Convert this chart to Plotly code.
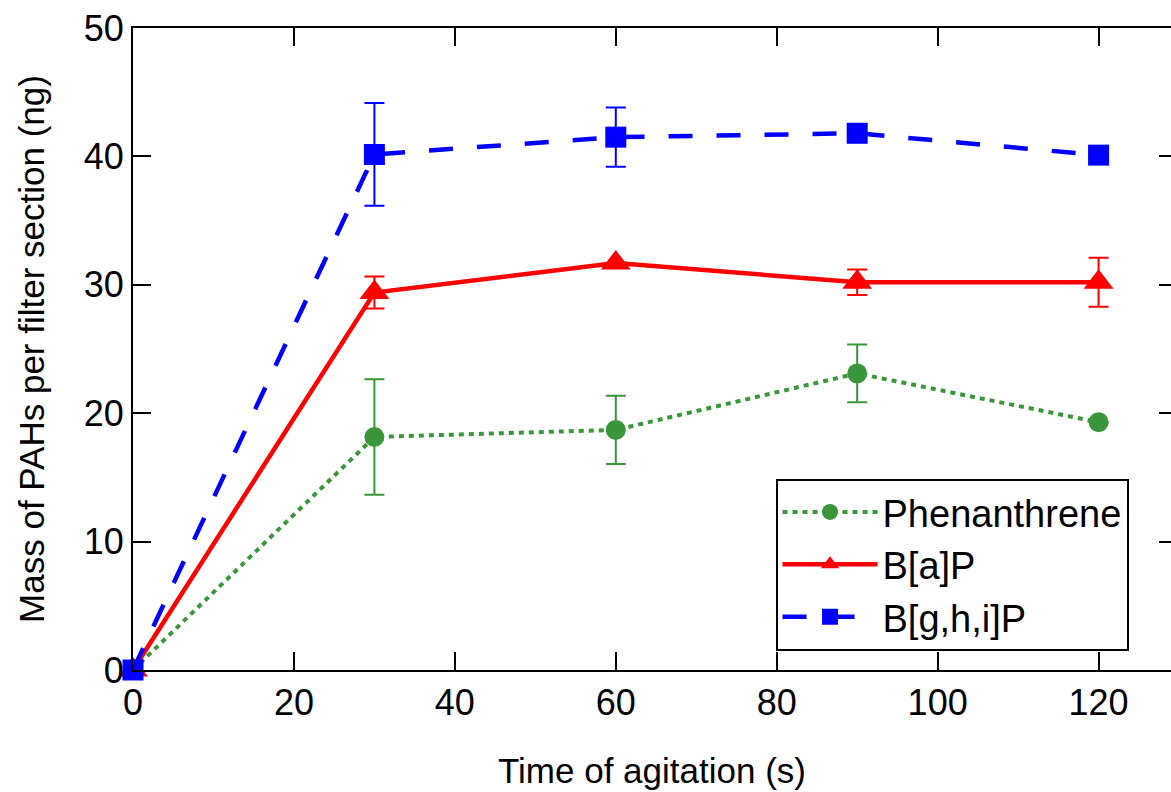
import plotly.graph_objects as go

time_s = [0, 30, 60, 90, 120]

phen = [0, 18.15, 18.7, 23.1, 19.3]
phen_err = [0, 4.5, 2.65, 2.25, 0]

bap = [0, 29.4, 31.7, 30.2, 30.2]
bap_err = [0, 1.25, 0, 1.0, 1.9]

bghip = [0, 40.15, 41.5, 41.8, 40.1]
bghip_err = [0, 4.0, 2.3, 0, 0]

names = ["Phenanthrene", "B[a]P", "B[g,h,i]P"]
tick_vals_x = [0, 20, 40, 60, 80, 100, 120]
tick_vals_y = [0, 10, 20, 30, 40, 50]

FONT = "Arial, Liberation Sans, sans-serif"
GREEN = "#3a963a"
RED = "#ff0000"
BLUE = "#0000ff"

fig = go.Figure()

fig.add_trace(go.Scatter(
    x=time_s, y=phen, name=names[0], mode="lines+markers",
    line=dict(color=GREEN, width=4, dash="5px,5px"),
    marker=dict(symbol="circle", size=20, color=GREEN),
    error_y=dict(type="data", array=phen_err, visible=True, color=GREEN, thickness=2, width=10),
    cliponaxis=False,
))
fig.add_trace(go.Scatter(
    x=time_s, y=bap, name=names[1], mode="lines+markers",
    line=dict(color=RED, width=4.5),
    marker=dict(symbol="triangle-up", size=26, color=RED),
    error_y=dict(type="data", array=bap_err, visible=True, color=RED, thickness=2, width=10),
    cliponaxis=False,
))
fig.add_trace(go.Scatter(
    x=time_s, y=bghip, name=names[2], mode="lines+markers",
    line=dict(color=BLUE, width=4.5, dash="24px,24px"),
    marker=dict(symbol="square", size=21, color=BLUE),
    error_y=dict(type="data", array=bghip_err, visible=True, color=BLUE, thickness=2, width=10),
    cliponaxis=False,
))
# empty trace to activate the right-hand mirror tick axis
fig.add_trace(go.Scatter(x=[], y=[], yaxis="y2", showlegend=False, hoverinfo="skip"))

axis_common = dict(
    showgrid=False, zeroline=False, automargin=False,
    showline=True, linecolor="black", linewidth=2,
    ticks="inside", ticklen=18, tickwidth=2, tickcolor="black",
    tickfont=dict(family=FONT, size=36, color="black"),
)

fig.update_layout(
    width=1171, height=792,
    margin=dict(l=133, r=0, t=28, b=122, autoexpand=False),
    paper_bgcolor="white", plot_bgcolor="white",
    font=dict(family=FONT, color="black"),
    xaxis=dict(
        range=[0, 129], tickvals=tick_vals_x, mirror="ticks",
        title=dict(text="Time of agitation (s)", font=dict(family=FONT, size=35), standoff=36),
        **axis_common,
    ),
    yaxis=dict(
        range=[0, 50], tickvals=tick_vals_y, mirror=False,
        title=dict(text="Mass of PAHs per filter section (ng)", font=dict(family=FONT, size=35), standoff=29),
        **axis_common,
    ),
    yaxis2=dict(
        overlaying="y", side="right", range=[0, 50], tickvals=tick_vals_y,
        showgrid=False, zeroline=False, showline=False, showticklabels=False,
        automargin=False,
        ticks="inside", ticklen=12, tickwidth=2, tickcolor="black",
    ),
    legend=dict(
        x=0.619, y=0.298, xanchor="left", yanchor="top",
        bgcolor="white", bordercolor="black", borderwidth=2,
        font=dict(family=FONT, size=38, color="black"),
        itemwidth=95, tracegroupgap=0,
    ),
    showlegend=True,
)

# remove the default page margin so the figure sits at the window's top-left corner
fig.write_html(
    "out.html",
    config={"displayModeBar": False},
    post_script="document.body.style.margin='0px';document.body.style.overflow='hidden';",
)
